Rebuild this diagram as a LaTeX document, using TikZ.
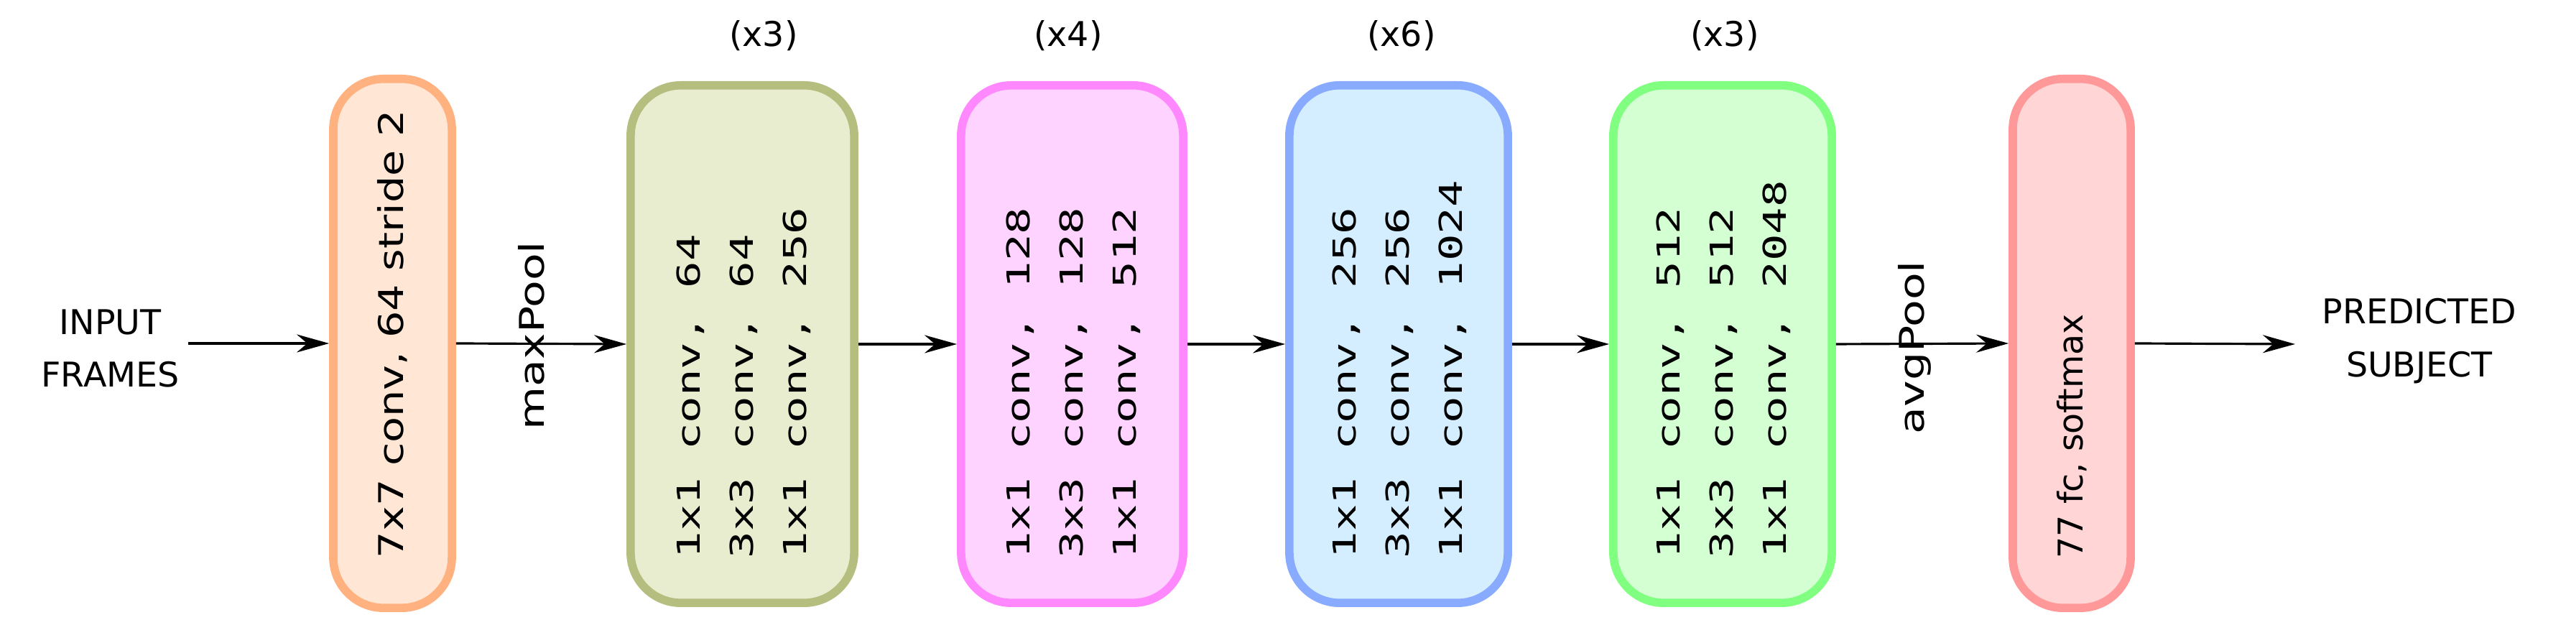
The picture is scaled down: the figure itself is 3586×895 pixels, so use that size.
\documentclass[tikz,border=0pt]{standalone}
\usepackage{fontspec}
\usepackage{graphicx}
\setmainfont{DejaVu Sans}
\setmonofont{DejaVu Sans Mono}
\usetikzlibrary{arrows.meta}
\definecolor{b1d}{HTML}{FFB27F}\definecolor{b1f}{HTML}{FFE6D5}
\definecolor{b2d}{HTML}{B5BD7F}\definecolor{b2f}{HTML}{E8EDCF}
\definecolor{b3d}{HTML}{FF88FF}\definecolor{b3f}{HTML}{FFD3FF}
\definecolor{b4d}{HTML}{88AAFF}\definecolor{b4f}{HTML}{D5EEFF}
\definecolor{b5d}{HTML}{80FF80}\definecolor{b5f}{HTML}{D3FFD3}
\definecolor{b6d}{HTML}{FF9999}\definecolor{b6f}{HTML}{FFD5D5}
\newcommand\mystk[2]{\scalebox{#1}[1]{\begin{tabular}{@{}l@{}}#2\end{tabular}}}
\begin{document}
\begin{tikzpicture}[x=0.01cm,y=0.01cm,
  blk/.style={draw=#1d,fill=#1f,line width=3.3pt,rounded corners=0.7cm,inner sep=0},
  txt/.style={rotate=90,anchor=west,align=left,font=\fontsize{13.5}{21}\selectfont,inner sep=0},
  mtxt/.style={txt,font=\ttfamily\fontsize{12.5}{21}\selectfont},
  lab/.style={font=\fontsize{13.5}{21}\selectfont,align=center},
  arr/.style={-{Stealth[length=0.45cm,width=0.25cm]},line width=0.9pt}]
\useasboundingbox (0,0) rectangle (3586,895);
\node[blk=b1,minimum width=1.65cm,minimum height=7.36cm] (b1) at (546.5,417) {};
\node[blk=b2,minimum width=3.11cm,minimum height=7.2cm] (b2) at (1033.5,416) {};
\node[blk=b3,minimum width=3.09cm,minimum height=7.2cm] (b3) at (1492.5,416) {};
\node[blk=b4,minimum width=3.04cm,minimum height=7.2cm] (b4) at (1947,416) {};
\node[blk=b5,minimum width=3.04cm,minimum height=7.2cm] (b5) at (2398,416) {};
\node[blk=b6,minimum width=1.64cm,minimum height=7.36cm] (b6) at (2884,417) {};
\node[txt] (t1) at (546.5,117) {\mystk{1.24}{7x7 conv, 64 stride 2}};
\node[mtxt] (t2) at (1033.5,117) {\mystk{1.42}{1x1 conv, 64\\3x3 conv, 64\\1x1 conv, 256}};
\node[mtxt] (t3) at (1492.5,117) {\mystk{1.42}{1x1 conv, 128\\3x3 conv, 128\\1x1 conv, 512}};
\node[mtxt] (t4) at (1947,117) {\mystk{1.42}{1x1 conv, 256\\3x3 conv, 256\\1x1 conv, 1024}};
\node[mtxt] (t5) at (2398,117) {\mystk{1.42}{1x1 conv, 512\\3x3 conv, 512\\1x1 conv, 2048}};
\node[txt] (t6) at (2884,117) {77 fc, softmax};
\node[lab] (x1) at (1063,845) {(x3)};
\node[lab] (x2) at (1487,845) {(x4)};
\node[lab] (x3) at (1951,845) {(x6)};
\node[lab] (x4) at (2401,845) {(x3)};
\node[lab,anchor=east] (in) at (262,410) {INPUT\\FRAMES};
\node[lab,anchor=west] (out) at (3220,420) {PREDICTED\\SUBJECT};
\coordinate (oe) at (3195,416);
\node[txt] (mp) at (743,296) {\mystk{1.3}{maxPool}};
\node[txt] (ap) at (2664,290) {\mystk{1.3}{avgPool}};
\draw[arr] (in.east|-b1.west) -- (b1.west);
\draw[arr] (b1.east) -- (b2.west);
\draw[arr] (b2.east) -- (b3.west);
\draw[arr] (b3.east) -- (b4.west);
\draw[arr] (b4.east) -- (b5.west);
\draw[arr] (b5.east) -- (b6.west);
\draw[arr] (b6.east) -- (oe);
\end{tikzpicture}
\end{document}
